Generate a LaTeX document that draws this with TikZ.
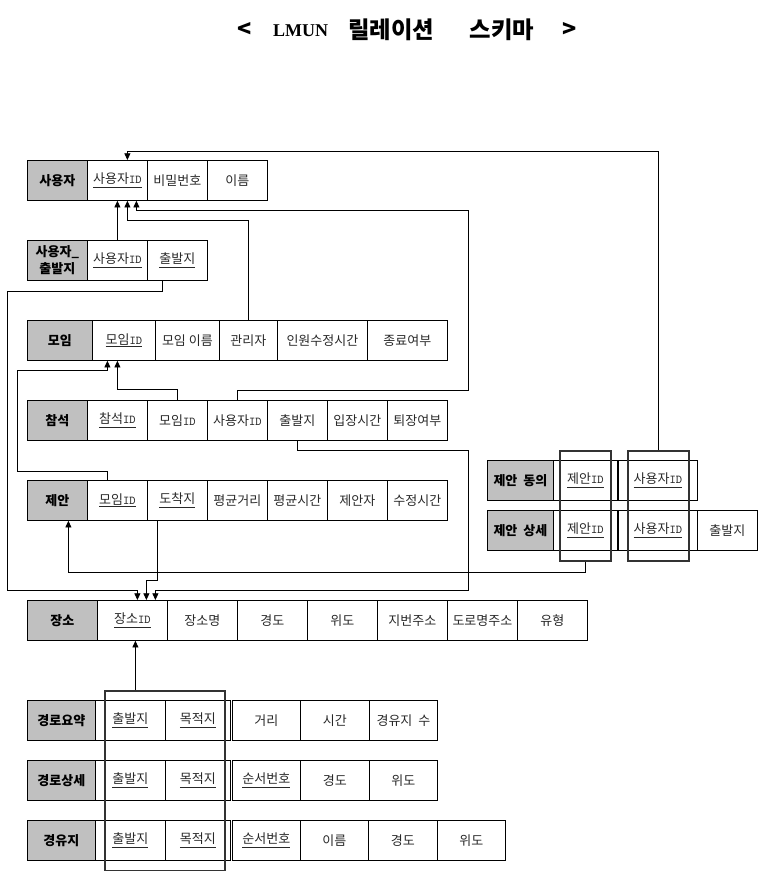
\documentclass[tikz,border=0pt]{standalone}
\usepackage{fontspec}
\usepackage{tikz}
\usetikzlibrary{arrows.meta,calc}
\newfontfamily\kr{Noto Sans CJK KR}
\newfontfamily\latinserif{Liberation Serif}
\newdimen\pxu \pxu=0.75pt
\definecolor{headgrey}{RGB}{192,192,192}
\definecolor{celltext}{RGB}{40,40,40}
\newcommand\ukey[1]{\underline{#1}}
\newcommand\idt{{\ttfamily\fontsize{9}{10}\selectfont ID}}
\begin{document}
\begin{tikzpicture}[x=0.75pt,y=-0.75pt,
    cell/.style={draw, line width=0.6pt, anchor=north west, minimum height=40\pxu, inner sep=0pt,
      text=celltext, font=\kr\fontsize{9.75}{11}\selectfont},
    head/.style={cell, fill=headgrey, text=black, font=\kr\fontsize{9.75}{11}\selectfont\bfseries},
    keybox/.style={draw=black!80, line width=1.6pt, anchor=north west, inner sep=0pt},
    titletext/.style={inner sep=0pt, font=\kr\fontsize{17.5}{19}\selectfont\bfseries},
    fk/.style={line width=0.6pt, -{Triangle[length=5pt,width=4.5pt]}}]
  \useasboundingbox (0,0) rectangle (758,871);
  % title
  \node[titletext] (titlelt) at (244.5,30) {<};
  \node[titletext, font=\latinserif\fontsize{13.5}{15}\selectfont\bfseries] (titlelmun) at (300.5,31) {LMUN};
  \node[titletext] (titlerel) at (391,30) {릴레이션};
  \node[titletext] (titleschema) at (502,30) {스키마};
  \node[titletext] (titlegt) at (569.5,30) {>};

  % 사용자
  \node[head, minimum width=60\pxu] (u0) at (27,160) {사용자};
  \foreach \x/\w/\t [count=\i] in {87/60/\ukey{사용자\idt},147/60/비밀번호,207/60/이름}
    \node[cell, minimum width=\w\pxu] (u\i) at (\x,160) {\t};
  % 사용자_출발지
  \node[head, minimum width=60\pxu, align=center] (ud0) at (27,240) {사용자\_\\[2pt]출발지};
  \foreach \x/\w/\t [count=\i] in {87/60/\ukey{사용자\idt},147/60/\ukey{출발지}}
    \node[cell, minimum width=\w\pxu] (ud\i) at (\x,240) {\t};
  % 모임
  \node[head, minimum width=65\pxu] (m0) at (27,320) {모임};
  \foreach \x/\w/\t [count=\i] in {92/63/\ukey{모임\idt},155/64/모임\ 이름,219/58/관리자,277/90/인원수정시간,367/80/종료여부}
    \node[cell, minimum width=\w\pxu] (m\i) at (\x,320) {\t};
  % 참석
  \node[head, minimum width=60\pxu] (a0) at (27,400) {참석};
  \foreach \x/\t [count=\i] in {87/\ukey{참석\idt},147/모임\idt,207/사용자\idt,267/출발지,327/입장시간,387/퇴장여부}
    \node[cell, minimum width=60\pxu] (a\i) at (\x,400) {\t};
  % 제안
  \node[head, minimum width=60\pxu] (s0) at (27,480) {제안};
  \foreach \x/\t [count=\i] in {87/\ukey{모임\idt},147/\ukey{도착지},207/평균거리,267/평균시간,327/제안자,387/수정시간}
    \node[cell, minimum width=60\pxu] (s\i) at (\x,480) {\t};
  % 장소
  \node[head, minimum width=70\pxu] (p0) at (27,600) {장소};
  \foreach \x/\t [count=\i] in {97/\ukey{장소\idt},167/장소명,237/경도,307/위도,377/지번주소,447/도로명주소,517/유형}
    \node[cell, minimum width=70\pxu] (p\i) at (\x,600) {\t};
  % 제안 동의, 제안 상세
  \node[head, minimum width=66\pxu] (d0) at (487,460) {제안\ \ 동의};
  \foreach \x/\w/\t [count=\i] in {553/64/\ukey{제안\idt},618/79/\ukey{사용자\idt}}
    \node[cell, minimum width=\w\pxu] (d\i) at (\x,460) {\t};
  \node[head, minimum width=66\pxu] (e0) at (487,510) {제안\ \ 상세};
  \foreach \x/\w/\t [count=\i] in {553/64/\ukey{제안\idt},618/79/\ukey{사용자\idt},697/60/출발지}
    \node[cell, minimum width=\w\pxu] (e\i) at (\x,510) {\t};
  % 경로요약, 경로상세, 경유지
  \node[head, minimum width=68\pxu] (r0) at (27,700) {경로요약};
  \foreach \x/\w/\t [count=\i] in {95/70/\ukey{출발지},165/65/\ukey{목적지},232/68/거리,300/69/시간,369/68/경유지\ \ 수}
    \node[cell, minimum width=\w\pxu] (r\i) at (\x,700) {\t};
  \node[head, minimum width=68\pxu] (q0) at (27,760) {경로상세};
  \foreach \x/\w/\t [count=\i] in {95/70/\ukey{출발지},165/65/\ukey{목적지},232/68/\ukey{순서번호},300/69/경도,369/68/위도}
    \node[cell, minimum width=\w\pxu] (q\i) at (\x,760) {\t};
  \node[head, minimum width=68\pxu] (w0) at (27,820) {경유지};
  \foreach \x/\w/\t [count=\i] in {95/70/\ukey{출발지},165/65/\ukey{목적지},232/68/\ukey{순서번호},300/68/이름,368/69/경도,437/68/위도}
    \node[cell, minimum width=\w\pxu] (w\i) at (\x,820) {\t};

  % composite keys
  \node[keybox, minimum width=51\pxu, minimum height=110\pxu] (kpid) at (559,450) {};
  \node[keybox, minimum width=61\pxu, minimum height=110\pxu] (kuid) at (627,450) {};
  \node[keybox, minimum width=120\pxu, minimum height=180\pxu] (kroute) at (104,690) {};

  % foreign keys -> 사용자ID
  \draw[fk] (ud1.north) -- (u1.south);
  \draw[fk] (m3.north) |- ($(u1.south)+(10,20)$) -- ($(u1.south)+(10,0)$);
  \draw[fk] (a3.north) -- ++(0,-10) -- ++(231,0) |- ($(u1.south)+(19,10)$) -- ($(u1.south)+(19,0)$);
  \draw[fk] (kuid.north) |- ($(u1.north)+(10,-9)$) -- ($(u1.north)+(10,0)$);
  % -> 모임ID
  \draw[fk] (a2.north) |- ($(m1.south)+(-6.5,29)$) -- ($(m1.south)+(-6.5,0)$);
  \draw[fk] ($(s1.north)+(-10,0)$) -- ++(0,-9) -| ($(m1.south)+(-106.5,10)$) -| ($(m1.south)+(-16.5,0)$);
  % -> 장소ID
  \draw[fk] ($(ud2.south)+(-15,0)$) -- ++(0,11) -| ($(p1.north)+(-125,-10)$) -| ($(p1.north)+(5,0)$);
  \draw[fk] (a4.south) -- ++(0,10) -| ($(p1.north)+(336,-10)$) -| ($(p1.north)+(23,0)$);
  \draw[fk] ($(s2.south)+(-20,0)$) |- ($(p1.north)+(14,-20)$) -- ($(p1.north)+(14,0)$);
  \coordinate (pin) at ($(p1.south)+(3,0)$);
  \draw[fk] (pin |- kroute.north) -- (pin);
  % -> 제안
  \draw[fk] (kpid.south) -- ++(0,10) -| ($(s0.south)+(11,0)$);
\end{tikzpicture}
\end{document}
